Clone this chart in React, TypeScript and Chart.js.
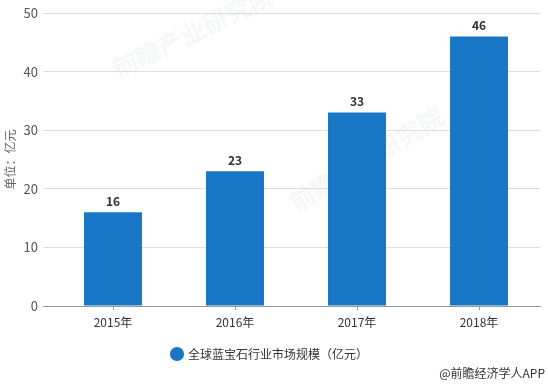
import React, { useEffect, useRef } from "react";
import { Chart, registerables } from "chart.js";

Chart.register(...registerables);

const categories = ["2015年", "2016年", "2017年", "2018年"];
const marketSize = [16, 23, 33, 46];
const seriesName = "全球蓝宝石行业市场规模（亿元）";
const yTitle = "单位：亿元";
const yMin = 0;
const yMax = 50;
const yStep = 10;
const sourceText = "@前瞻经济学人APP";
const watermarkText = "前瞻产业研究院";

const FONT = "'Microsoft YaHei', 'Noto Sans CJK SC', 'Noto Sans', sans-serif";
const BLUE = "#1777c6";

export default function App() {
  const ref = useRef<HTMLCanvasElement | null>(null);

  useEffect(() => {
    if (!ref.current) return;

    const extras = {
      id: "extras",
      beforeDatasetsDraw(chart: any) {
        const ctx = chart.ctx;
        ctx.save();
        ctx.fillStyle = "rgba(200,205,215,0.16)";
        ctx.font = `bold 25px ${FONT}`;
        ctx.textAlign = "left";
        ctx.textBaseline = "middle";
        const spots = [
          [114, 70, -0.45],
          [292, 205, -0.55],
        ];
        for (const [x, y, a] of spots) {
          ctx.save();
          ctx.translate(x, y);
          ctx.rotate(a);
          ctx.fillText(watermarkText, 0, 0);
          ctx.restore();
        }
        ctx.restore();
      },
      afterDatasetsDraw(chart: any) {
        const ctx = chart.ctx;
        ctx.save();
        ctx.font = `bold 12px ${FONT}`;
        ctx.fillStyle = "#333";
        ctx.textAlign = "center";
        ctx.textBaseline = "middle";
        const meta = chart.getDatasetMeta(0);
        meta.data.forEach((bar: any, i: number) => {
          ctx.fillText(String(marketSize[i]), bar.x, bar.y - 11);
        });
        ctx.font = `12px ${FONT}`;
        ctx.textAlign = "right";
        ctx.fillStyle = "#333";
        ctx.fillText(sourceText, 545, 373);
        ctx.restore();
      },
    };

    const chart = new Chart(ref.current, {
      type: "bar",
      data: {
        labels: categories,
        datasets: [
          {
            label: seriesName,
            data: marketSize,
            backgroundColor: BLUE,
            borderWidth: 0,
            barPercentage: 0.475,
            categoryPercentage: 1,
          },
        ],
      },
      options: {
        responsive: false,
        animation: false,
        layout: { padding: { left: 0, right: 8, top: 13, bottom: 15 } },
        plugins: {
          tooltip: { enabled: false },
          legend: {
            position: "bottom",
            labels: {
              usePointStyle: true,
              pointStyle: "circle",
              boxWidth: 10,
              boxHeight: 10,
              padding: 10,
              color: "#333",
              font: { family: FONT, size: 12 },
            },
          },
        },
        scales: {
          x: {
            grid: {
              display: true,
              drawOnChartArea: false,
              drawTicks: true,
              tickLength: 4,
              offset: false,
              color: "#999",
            },
            border: { display: true, color: "#999" },
            ticks: { color: "#333", padding: 5, font: { family: FONT, size: 12 } },
            afterFit(scale: any) {
              scale.height = 32;
            },
          },
          y: {
            min: yMin,
            max: yMax,
            ticks: {
              stepSize: yStep,
              color: "#555",
              padding: 5,
              font: { family: FONT, size: 13 },
            },
            grid: {
              color: (c: any) => (c.tick && c.tick.value === 0 ? "#999" : "#ddd"),
              tickLength: 9,
              drawTicks: true,
            },
            border: { display: false },
            title: {
              display: true,
              text: yTitle,
              color: "#666",
              font: { family: FONT, size: 12 },
              padding: { top: 3, bottom: 0 },
            },
            afterFit(scale: any) {
              scale.width = 52;
            },
          },
        },
      },
      plugins: [extras],
    });

    return () => chart.destroy();
  }, []);

  return (
    <div style={{ position: "fixed", left: 0, top: 0, width: 548, height: 385, background: "#fff" }}>
      <canvas ref={ref} width={548} height={385} style={{ display: "block" }} />
    </div>
  );
}
